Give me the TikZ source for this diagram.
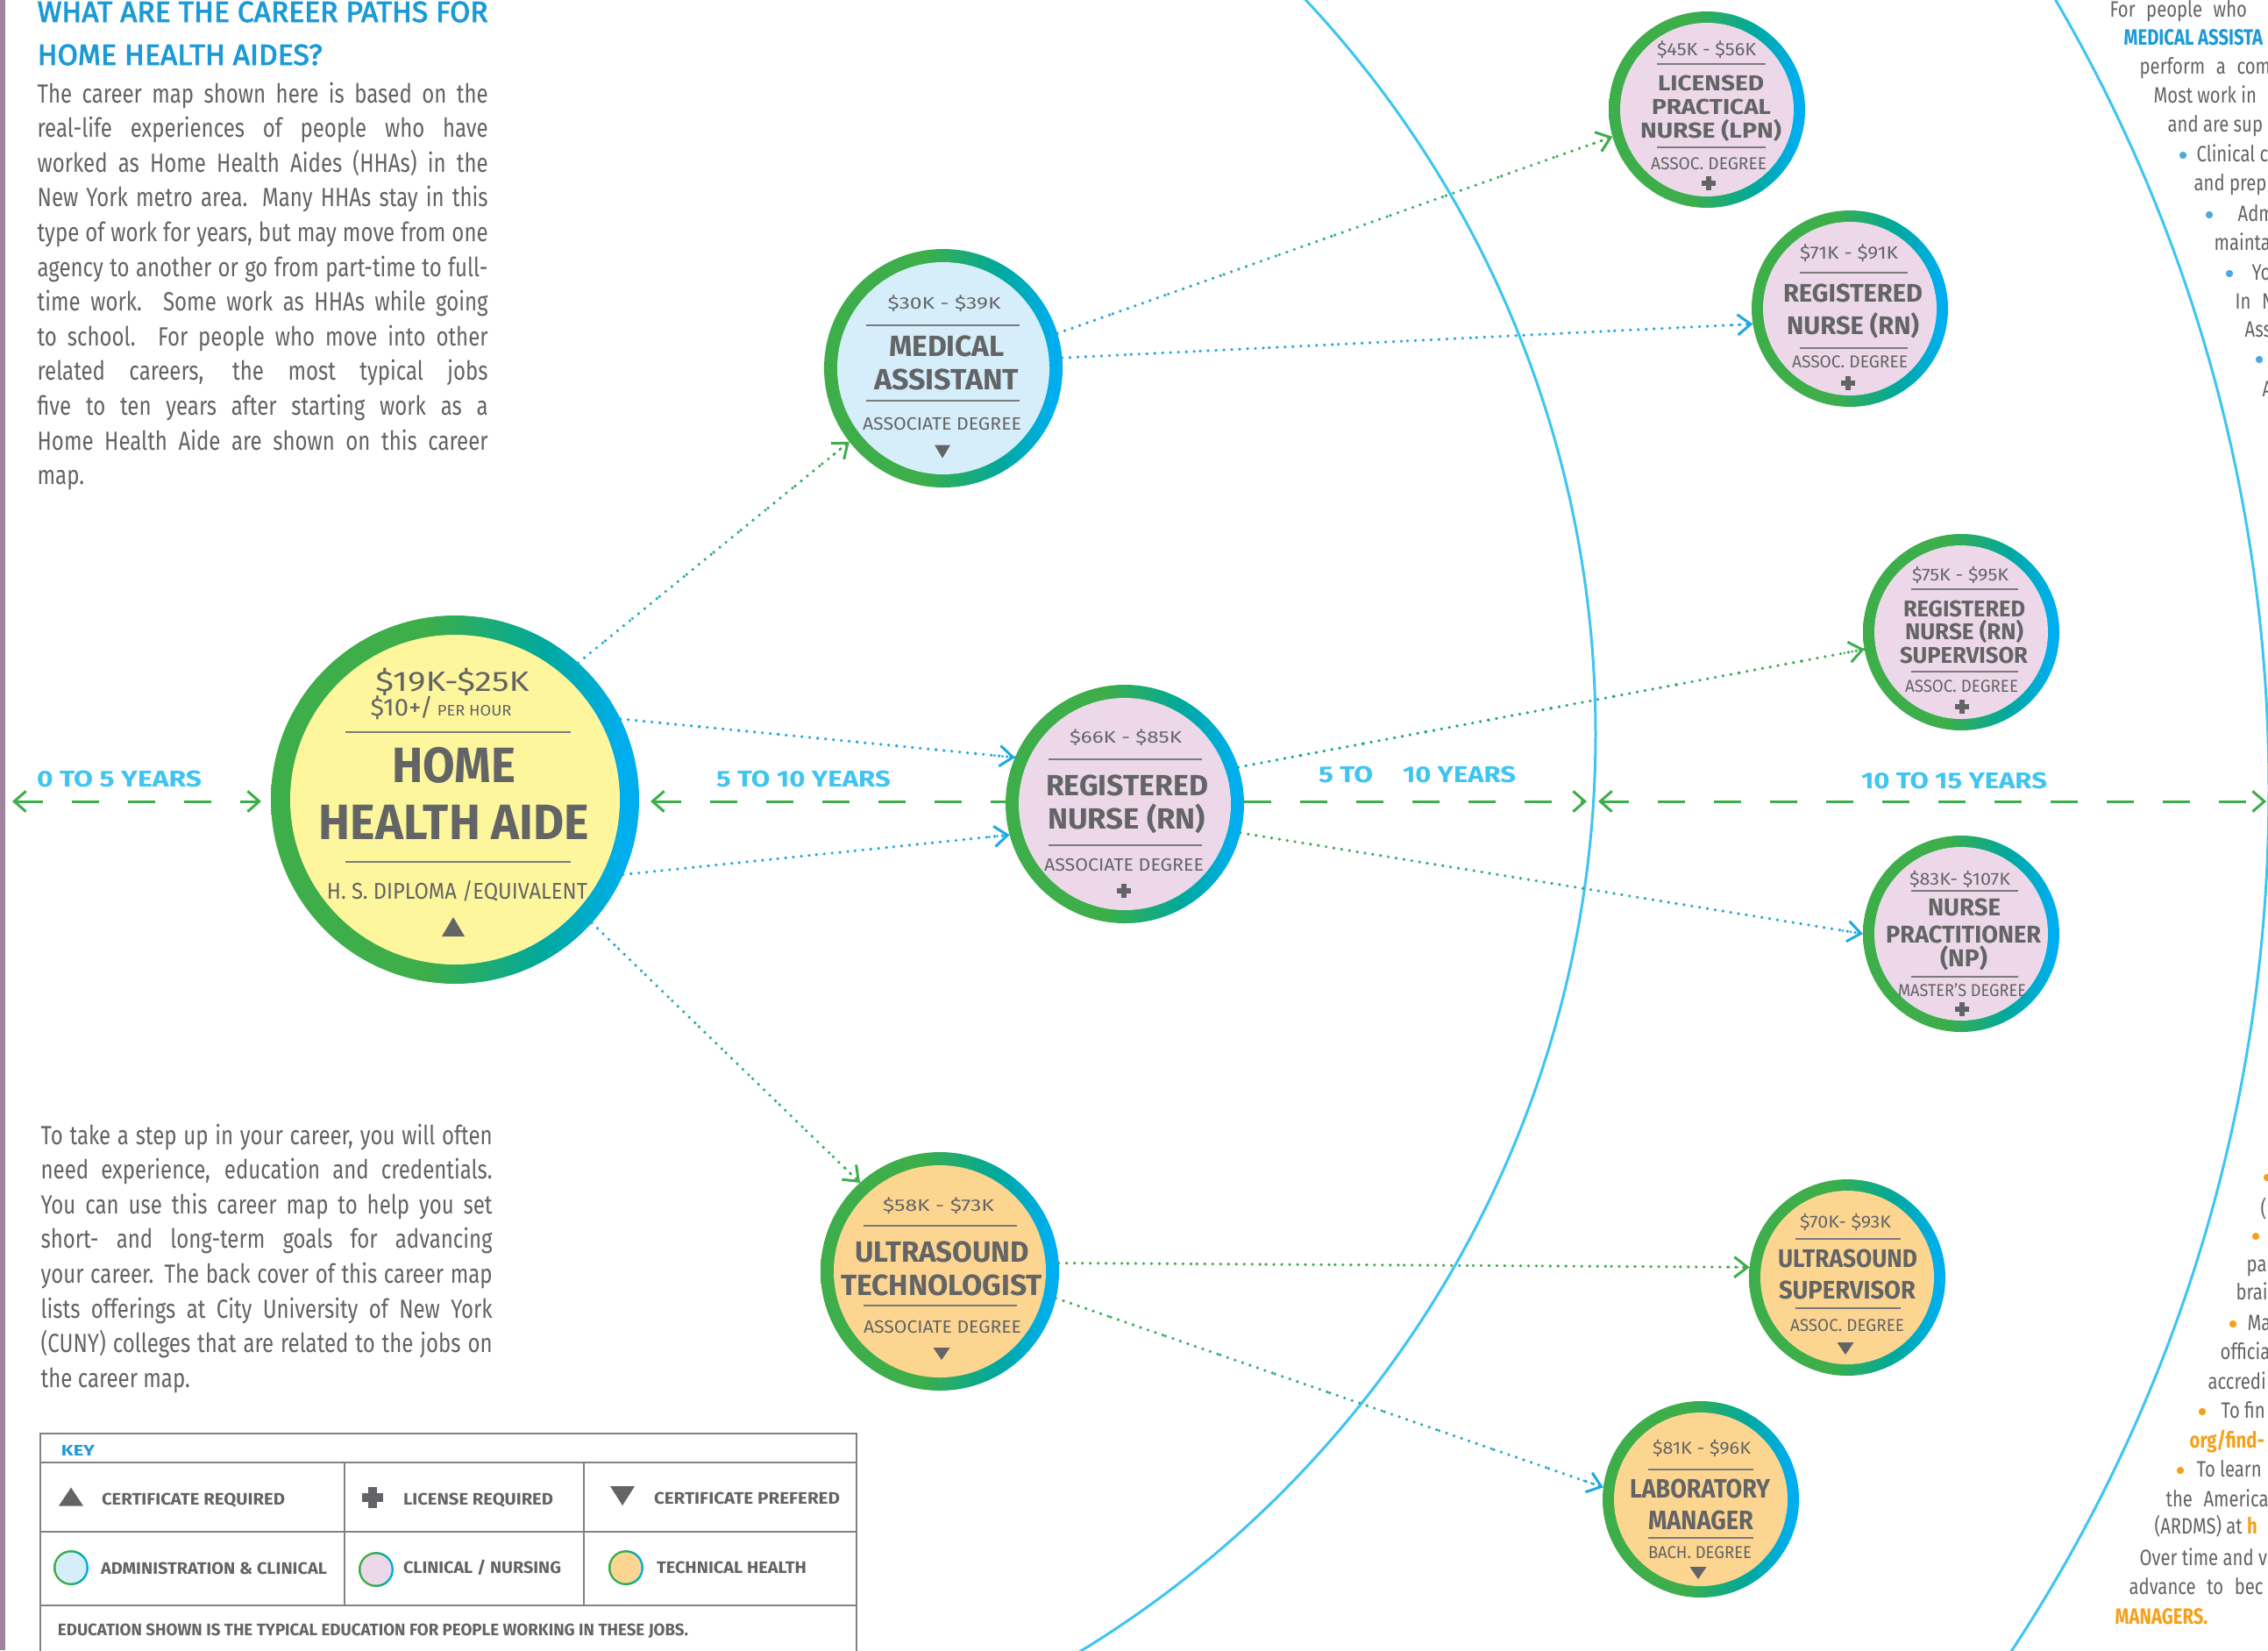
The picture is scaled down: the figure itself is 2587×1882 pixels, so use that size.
\documentclass[tikz,border=0pt]{standalone}
\usepackage{fontspec}
\usepackage{graphicx}
\setmainfont{Fira Sans}
\newfontfamily\bodyf{Fira Sans}[FakeStretch=0.8]
\newfontfamily\medf{Fira Sans}[FakeBold=2.5]
\usetikzlibrary{arrows.meta,calc}
\definecolor{rg}{HTML}{3DAE49}
\definecolor{rt}{HTML}{00A99D}
\definecolor{rb}{HTML}{00AEEF}
\definecolor{fy}{HTML}{FEF69D}
\definecolor{fb}{HTML}{D6EEF9}
\definecolor{fp}{HTML}{ECD8E9}
\definecolor{fo}{HTML}{FCD591}
\definecolor{tg}{HTML}{636466}
\definecolor{bodyg}{HTML}{626366}
\definecolor{ttl}{HTML}{1C9AD6}
\definecolor{yrb}{HTML}{40C4F0}
\definecolor{arcb}{HTML}{3EC5F1}
\definecolor{dotb}{HTML}{1FA9E1}
\definecolor{barc}{HTML}{9F81A0}
\definecolor{keyl}{HTML}{808285}
\definecolor{org}{HTML}{F6A01A}
\definecolor{bul}{HTML}{4DA8DB}
\pgfdeclarehorizontalshading{ringshade}{100bp}{color(0bp)=(rg); color(25bp)=(rg); color(46bp)=(rg); color(62bp)=(rt); color(73bp)=(rb); color(100bp)=(rb)}
\tikzset{
  ringn/.style={circle, inner sep=0pt, outer sep=0pt, minimum size=#1, shade, shading=ringshade},
  fillin/.style 2 args={circle, inner sep=0pt, outer sep=0pt, minimum size=#1, fill=#2},
  ctxt/.style={inner sep=0pt, outer sep=0pt, text=tg},
  sepl/.style={tg!85, line width=0.6pt},
  arcl/.style={arcb, line width=0.9pt},
  yr/.style={rg, line width=0.9pt, dash pattern=on 9.3pt off 9.9pt},
  dotl/.style={line width=1.1pt, line cap=round, dash pattern=on 0pt off 2.7pt},
  ytip/.tip={Straight Barb[length=4pt,width=7pt]},
  dtip/.tip={Straight Barb[length=4.5pt,width=7pt]},
  keyline/.style={keyl, line width=0.6pt},
  rtext/.style={anchor=base west, inner sep=0pt, text=bodyg, font=\bodyf\fontsize{7.6pt}{9pt}\selectfont},
}
\newcommand\ctx[6]{\node[ctxt, anchor=base] (#1) at (#2,#3) {\fontsize{#4pt}{#4pt}\selectfont\resizebox{#5pt}{\height}{#6}};}
\newcommand\ytx[5]{\node[ctxt, anchor=base, text=yrb] (#1) at (#2,#3) {\fontsize{7.8pt}{7.8pt}\selectfont\bfseries\resizebox{#4pt}{\height}{#5}};}
\newcommand\ktx[5]{\node[ctxt, anchor=base west] (#1) at (#2,#3) {\fontsize{5.7pt}{5.7pt}\selectfont\bfseries\resizebox{#4pt}{\height}{#5}};}
\newcommand\sepl[3]{\draw[sepl] (#1,#3) -- (#2,#3);}
\newcommand\plusat[3]{\fill[tg] (#1-#3/2,#2-#3*0.19) rectangle (#1+#3/2,#2+#3*0.19);
  \fill[tg] (#1-#3*0.19,#2-#3/2) rectangle (#1+#3*0.19,#2+#3/2);}
\newcommand\tridown[4]{\fill[tg] (#1-#3/2,#2-#4/2) -- (#1+#3/2,#2-#4/2) -- (#1,#2+#4/2) -- cycle;}
\newcommand\triup[4]{\fill[tg] (#1-#3/2,#2+#4/2) -- (#1+#3/2,#2+#4/2) -- (#1,#2-#4/2) -- cycle;}
\newcommand\dconn[4]{%
  \foreach \k in {0,...,9}{%
    \pgfmathsetmacro\ta{\k/10}%
    \pgfmathsetmacro\tb{(\k+1)/10}%
    \pgfmathtruncatemacro\mx{95-\k*10}%
    \draw[dotl, color=#3!\mx!#4] ($(#1)!\ta!(#2)$) -- ($(#1)!\tb!(#2)$);
  }%
  \draw[dotl, line width=0.9pt, color=#4, -dtip] ($(#2)!7pt!(#1)$) -- (#2);
}
\newcommand\jl[1]{\makebox[\linewidth][s]{#1}}
\newcommand\rbul[3]{\fill[#1] (#2,#3) circle[radius=1.25pt];}

\begin{document}
\begin{tikzpicture}[x=0.3pt,y=-0.3pt]
\useasboundingbox (0,0) rectangle (2587,1882);
\fill[white] (0,0) rectangle (2587,1882);
\clip (0,0) rectangle (2587,1882);
\fill[barc] (0,0) rectangle (6,1882);

% big arcs
\draw[arcl] (595,837) circle[radius=367.5pt];
\draw[arcl] (800,901) circle[radius=536.4pt];

% circles
\node[ringn=126pt] (hha) at (519,912) {};
\node[fillin={112.8pt}{fy}] (hhain) at (hha) {};
\node[ringn=81.6pt] (ma) at (1076,420) {};
\node[fillin={72.6pt}{fb}] (main) at (ma) {};
\node[ringn=81.6pt] (rn) at (1283,917) {};
\node[fillin={72.6pt}{fp}] (rnin) at (rn) {};
\node[ringn=81.6pt] (ut) at (1072,1450) {};
\node[fillin={72.6pt}{fo}] (utin) at (ut) {};
\node[ringn=67.2pt] (lpn) at (1947,125) {};
\node[fillin={59.4pt}{fp}] (lpnin) at (lpn) {};
\node[ringn=67.2pt] (rnr) at (2110,352) {};
\node[fillin={59.4pt}{fp}] (rnrin) at (rnr) {};
\node[ringn=67.2pt] (rns) at (2237,721) {};
\node[fillin={59.4pt}{fp}] (rnsin) at (rns) {};
\node[ringn=67.2pt] (np) at (2237,1065) {};
\node[fillin={59.4pt}{fp}] (npin) at (np) {};
\node[ringn=67.2pt] (uss) at (2107,1457) {};
\node[fillin={59.4pt}{fo}] (ussin) at (uss) {};
\node[ringn=67.2pt] (lm) at (1940,1710) {};
\node[fillin={59.4pt}{fo}] (lmin) at (lm) {};

% dotted connectors
\dconn{hha.48}{ma.218}{dotb}{rg}
\dconn{hha.26}{rn.157}{dotb}{dotb}
\dconn{hha.-24}{rn.195}{dotb}{dotb}
\dconn{hha.-42}{ut.132}{dotb}{rg}
\dconn{ma.17}{lpn.196}{dotb}{rg}
\dconn{ma.5}{rnr.189}{dotb}{dotb}
\dconn{rn.18}{rns.190}{rt}{rg}
\dconn{rn.-14}{np.180}{rg}{dotb}
\dconn{ut.4}{uss.174}{rg}{rg}
\dconn{ut.-13}{lm.173}{rg}{dotb}

% year dashed arrows
\coordinate (yl) at (14,914);
\coordinate (m1) at (1810,914);
\coordinate (m2) at (1823,914);
\coordinate (yre) at (2585,914);
\draw[yr, ytip-ytip] (yl) -- ($(hha.west |- yl)+(-11,0)$);
\draw[yr, ytip-] ($(hha.east |- yl)+(13,0)$) -- (rn.west |- yl);
\draw[yr, -ytip] (rn.east |- yl) -- (m1);
\draw[yr, ytip-ytip] (m2) -- (yre);
\ytx{y0}{136}{897}{56.4}{0 TO 5 YEARS}
\ytx{y1}{916.5}{897}{59.7}{5 TO 10 YEARS}
\ytx{y2a}{1535}{892}{18.6}{5 TO}
\ytx{y2b}{1664.5}{892}{38.7}{10 YEARS}
\ytx{y3}{2229}{899}{63.6}{10 TO 15 YEARS}

% HHA content
\sepl{394}{651}{835}\sepl{394}{651}{983}
\ctx{h1}{516}{788}{9.6}{52.5}{\$19K-\$25K}
\ctx{h2}{503}{816}{8.3}{48.3}{\$10+/\,{\fontsize{5.2pt}{5.2pt}\selectfont PER HOUR}}
\ctx{h3}{517.5}{892}{17}{42.3}{\bfseries HOME}
\ctx{h4}{518}{957}{17}{92.4}{\bfseries HEALTH AIDE}
\ctx{h5}{521.5}{1025}{7.8}{89.1}{H. S. DIPLOMA /EQUIVALENT}
\triup{517}{1057}{26}{22}

% MA
\sepl{988}{1163}{371}\sepl{988}{1163}{457}
\ctx{m1t}{1077}{352}{5.7}{38.7}{\$30K - \$39K}
\ctx{m2t}{1080}{406}{10}{39.6}{\bfseries MEDICAL}
\ctx{m3t}{1079.5}{444}{10}{49.5}{\bfseries ASSISTANT}
\ctx{m4t}{1074.5}{490}{6.1}{54.3}{ASSOCIATE DEGREE}
\tridown{1075}{515}{18}{15}

% RN middle
\sepl{1196}{1371}{866}\sepl{1196}{1371}{964}
\ctx{r1}{1284}{847}{5.7}{38.4}{\$66K - \$85K}
\ctx{r2}{1285.5}{907}{10}{55.5}{\bfseries REGISTERED}
\ctx{r3}{1285}{945}{10}{54}{\bfseries NURSE (RN)}
\ctx{r4}{1282}{993}{6.1}{54.6}{ASSOCIATE DEGREE}
\plusat{1282}{1016}{16}

% UT
\sepl{985}{1160}{1398}\sepl{985}{1160}{1489}
\ctx{u1}{1070.5}{1381}{5.7}{38.1}{\$58K - \$73K}
\ctx{u2}{1074.5}{1439}{10}{59.7}{\bfseries ULTRASOUND}
\ctx{u3}{1074}{1477}{10}{69}{\bfseries TECHNOLOGIST}
\ctx{u4}{1075}{1520}{6.1}{54}{ASSOCIATE DEGREE}
\tridown{1074}{1544}{19}{14}

% LPN
\sepl{1890}{2014}{73}\sepl{1890}{2014}{168}
\ctx{l1}{1946.5}{63}{6.1}{33.9}{\$45K - \$56K}
\ctx{l2}{1951.5}{103}{7.4}{36.3}{\bfseries LICENSED}
\ctx{l3}{1952}{130}{7.4}{40.8}{\bfseries PRACTICAL}
\ctx{l4}{1951.5}{157}{7.4}{48.3}{\bfseries NURSE (LPN)}
\ctx{l5}{1949}{193}{5.9}{39.6}{ASSOC. DEGREE}
\plusat{1949}{209}{16}

% RN right
\sepl{2053}{2176}{311}\sepl{2053}{2176}{397}
\ctx{q1}{2109}{295}{6.1}{33.6}{\$71K - \$91K}
\ctx{q2}{2113.5}{344}{8.7}{47.7}{\bfseries REGISTERED}
\ctx{q3}{2113.5}{381}{8.7}{45.3}{\bfseries NURSE (RN)}
\ctx{q4}{2110}{419}{5.9}{39.6}{ASSOC. DEGREE}
\plusat{2108}{437}{16}

% RN supervisor
\sepl{2180}{2302}{672}\sepl{2180}{2302}{766}
\ctx{s1}{2236}{662}{5.9}{33}{\$75K - \$95K}
\ctx{s2}{2240.5}{703}{7.8}{41.7}{\bfseries REGISTERED}
\ctx{s3}{2240.5}{729}{7.8}{40.5}{\bfseries NURSE (RN)}
\ctx{s4}{2240}{756}{7.8}{43.8}{\bfseries SUPERVISOR}
\ctx{s5}{2237.5}{789}{5.9}{38.7}{ASSOC. DEGREE}
\plusat{2238}{806}{16}

% NP
\sepl{2180}{2302}{1016}\sepl{2180}{2302}{1114}
\ctx{n1}{2235.5}{1009}{5.9}{34.5}{\$83K- \$107K}
\ctx{n2}{2240.5}{1044}{8.3}{24.9}{\bfseries NURSE}
\ctx{n3}{2239.5}{1075}{8.3}{53.1}{\bfseries PRACTITIONER}
\ctx{n4}{2240}{1102}{8.3}{16.2}{\bfseries (NP)}
\ctx{n5}{2238}{1136}{5.9}{43.8}{MASTER’S DEGREE}
\plusat{2238}{1151}{16}

% US supervisor
\sepl{2048}{2168}{1413}\sepl{2048}{2168}{1492}
\ctx{v1}{2105}{1400}{5.9}{31.2}{\$70K- \$93K}
\ctx{v2}{2107.5}{1445}{8.7}{47.7}{\bfseries ULTRASOUND}
\ctx{v3}{2107}{1481}{8.7}{46.8}{\bfseries SUPERVISOR}
\ctx{v4}{2107}{1518}{5.9}{39}{ASSOC. DEGREE}
\tridown{2105}{1538}{19}{14}

% Lab manager
\sepl{1880}{2000}{1676}\sepl{1880}{2000}{1754}
\ctx{w1}{1941}{1658}{5.9}{33.6}{\$81K - \$96K}
\ctx{w2}{1939}{1708}{9.1}{48}{\bfseries LABORATORY}
\ctx{w3}{1940}{1744}{9.1}{36}{\bfseries MANAGER}
\ctx{w4}{1939}{1777}{5.9}{35.4}{BACH. DEGREE}
\tridown{1937}{1794}{19}{14}

% left title and text
\node[anchor=base west, inner sep=0pt, text=ttl] (title1) at (42,25) {\medf\fontsize{10pt}{10pt}\selectfont\resizebox{154.2pt}{\height}{WHAT ARE THE CAREER PATHS FOR}};
\node[anchor=base west, inner sep=0pt, text=ttl] (title2) at (42,74) {\medf\fontsize{10pt}{10pt}\selectfont\resizebox{97.5pt}{\height}{HOME HEALTH AIDES?}};
\node[anchor=base west, inner sep=0pt, text=bodyg] (intro) at (42,117) {\parbox[t]{154.2pt}{\bodyf\fontsize{9pt}{11.88pt}\selectfont
\jl{The career map shown here is based on the}\\
\jl{real-life experiences of people who have}\\
\jl{worked as Home Health Aides (HHAs) in the}\\
\jl{New York metro area. Many HHAs stay in this}\\
\jl{type of work for years, but may move from one}\\
\jl{agency to another or go from part-time to full-}\\
\jl{time work. Some work as HHAs while going}\\
\jl{to school. For people who move into other}\\
\jl{related careers, the most typical jobs}\\
\jl{five to ten years after starting work as a}\\
\jl{Home Health Aide are shown on this career}\\
map.}};
\node[anchor=base west, inner sep=0pt, text=bodyg] (howto) at (46,1305) {\parbox[t]{154.5pt}{\bodyf\fontsize{9pt}{11.88pt}\selectfont
\jl{To take a step up in your career, you will often}\\
\jl{need experience, education and credentials.}\\
\jl{You can use this career map to help you set}\\
\jl{short- and long-term goals for advancing}\\
\jl{your career. The back cover of this career map}\\
\jl{lists offerings at City University of New York}\\
\jl{(CUNY) colleges that are related to the jobs on}\\
the career map.}};

% key
\draw[keyline] (46,1635) rectangle (977,1920);
\draw[keyline] (46,1668) -- (977,1668);
\draw[keyline] (46,1747) -- (977,1747);
\draw[keyline] (46,1831) -- (977,1831);
\draw[keyline] (393,1668) -- (393,1831);
\draw[keyline] (666,1668) -- (666,1831);
\node[ctxt, anchor=base west, text=ttl] (keyt) at (70,1660) {\fontsize{5.2pt}{5.2pt}\selectfont\bfseries\resizebox{11.4pt}{\height}{KEY}};
\triup{81}{1707}{28}{21}
\plusat{425}{1708}{24}
\tridown{710}{1706}{28}{22}
\ktx{k1}{116}{1716}{62.7}{CERTIFICATE REQUIRED}
\ktx{k2}{460}{1716}{51.3}{LICENSE REQUIRED}
\ktx{k3}{746}{1715}{63.6}{CERTIFICATE PREFERED}
\node[ringn=12pt] (ka) at (81,1788) {};
\node[fillin={10.5pt}{fb}] (kain) at (ka) {};
\node[ringn=12pt] (kb) at (429,1790) {};
\node[fillin={10.5pt}{fp}] (kbin) at (kb) {};
\node[ringn=12pt] (kc) at (714,1788) {};
\node[fillin={10.5pt}{fo}] (kcin) at (kc) {};
\ktx{k4}{115}{1795}{77.4}{ADMINISTRATION \& CLINICAL}
\ktx{k5}{460}{1794}{54}{CLINICAL / NURSING}
\ktx{k6}{749}{1794}{51.3}{TECHNICAL HEALTH}
\ktx{k7}{66}{1865}{215.7}{EDUCATION SHOWN IS THE TYPICAL EDUCATION FOR PEOPLE WORKING IN THESE JOBS.}

% right column (cut off by the page edge, as in the reference)
\node[rtext] (ra1) at (2406,19) {For\enspace people\enspace who};
\node[rtext, text=ttl, font=\bodyf\bfseries\fontsize{7.6pt}{9pt}\selectfont] (ra2) at (2422,51) {MEDICAL ASSISTA};
\node[rtext] (ra3) at (2440,84) {perform\enspace a\enspace com};
\node[rtext] (ra4) at (2456,117) {Most work in};
\node[rtext] (ra5) at (2472,150) {and are sup};
\rbul{bul}{2490}{177}
\node[rtext] (ra6) at (2505,184) {Clinical c};
\node[rtext] (ra7) at (2502,217) {and prep};
\rbul{bul}{2520}{245}
\node[rtext] (ra8) at (2552,252) {Adm};
\node[rtext] (ra9) at (2525,285) {mainta};
\rbul{bul}{2543}{312}
\node[rtext] (ra10) at (2568,319) {Yo};
\node[rtext] (ra11) at (2549,352) {In\enspace N};
\node[rtext] (ra12) at (2560,384) {Ass};
\rbul{bul}{2577}{410}
\node[rtext] (ra13) at (2580,452) {A};

\rbul{org}{2586}{1343}
\node[rtext] (rb1) at (2578,1387) {(};
\rbul{org}{2573}{1410}
\node[rtext] (rb2) at (2562,1450) {pa};
\node[rtext] (rb3) at (2550,1482) {brai};
\rbul{org}{2547}{1510}
\node[rtext] (rb4) at (2563,1517) {Ma};
\node[rtext] (rb5) at (2532,1550) {officia};
\node[rtext] (rb6) at (2518,1584) {accredi};
\rbul{org}{2512}{1610}
\node[rtext] (rb7) at (2533,1617) {To fin};
\node[rtext, text=org, font=\bodyf\bfseries\fontsize{7.6pt}{9pt}\selectfont] (rb8) at (2497,1651) {org/find-};
\rbul{org}{2487}{1677}
\node[rtext] (rb9) at (2505,1684) {To learn};
\node[rtext] (rb10) at (2470,1718) {the\enspace America};
\node[rtext] (rb11) at (2457,1749) {(ARDMS) at {\color{org}\bfseries h}};
\node[rtext] (rb12) at (2440,1785) {Over time and v};
\node[rtext] (rb13) at (2428,1818) {advance\enspace to\enspace bec};
\node[rtext, text=org, font=\bodyf\bfseries\fontsize{7.6pt}{9pt}\selectfont] (rb14) at (2412,1852) {MANAGERS.};
\end{tikzpicture}
\end{document}
